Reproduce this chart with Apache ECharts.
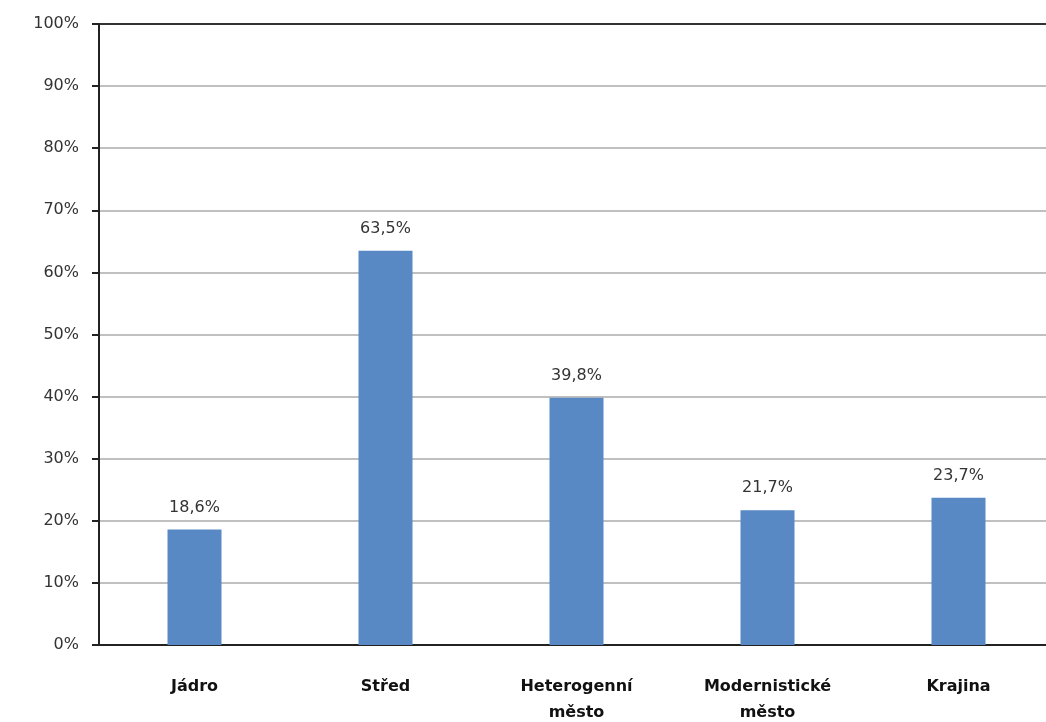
<!DOCTYPE html>
<html>
<head>
<meta charset="utf-8">
<script src="https://cdn.jsdelivr.net/npm/echarts@6/dist/echarts.min.js"></script>
<style>
  html, body { margin: 0; padding: 0; background: #fff; }
  #chart { width: 1046px; height: 722px; }
</style>
</head>
<body>
<div id="chart"></div>
<script>
const categories = ["Jádro", "Střed", "Heterogenní\nměsto", "Modernistické\nměsto", "Krajina"];
const shares = [18.6, 63.5, 39.8, 21.7, 23.7];
const yTicks = [0, 10, 20, 30, 40, 50, 60, 70, 80, 90, 100];

const chart = echarts.init(document.getElementById("chart"));

// grey grid lines, top one dark like the plot border
const gridColors = yTicks.map((t, i) => (i === yTicks.length - 1 ? "#333" : "#c0c0c0"));

chart.setOption({
  animation: false,
  textStyle: { fontFamily: "DejaVu Sans" },
  grid: { left: 99, right: -8, top: 24, bottom: 77, outerBoundsMode: "none", containLabel: false },
  xAxis: {
    type: "category",
    data: categories,
    axisLine: { lineStyle: { color: "#222", width: 2 } },
    axisTick: { show: false },
    axisLabel: {
      color: "#111",
      fontWeight: "bold",
      fontSize: 16,
      lineHeight: 26,
      margin: 29,
      interval: 0,
    },
  },
  yAxis: {
    type: "value",
    min: 0,
    max: 100,
    interval: 10,
    axisLine: { show: true, lineStyle: { color: "#222", width: 2 } },
    axisTick: { show: true, length: 7, lineStyle: { color: "#222", width: 2 } },
    axisLabel: {
      color: "#333",
      fontSize: 16,
      margin: 20,
      formatter: (v) => v + "%",
    },
    splitLine: { lineStyle: { color: gridColors, width: 2 } },
  },
  series: [
    {
      type: "bar",
      data: shares,
      barWidth: 54,
      itemStyle: { color: "#5889c4" },
      label: {
        show: true,
        position: "top",
        distance: 14,
        color: "#333",
        fontSize: 16,
        formatter: (p) => p.value.toFixed(1).replace(".", ",") + "%",
      },
    },
  ],
});
</script>
</body>
</html>
